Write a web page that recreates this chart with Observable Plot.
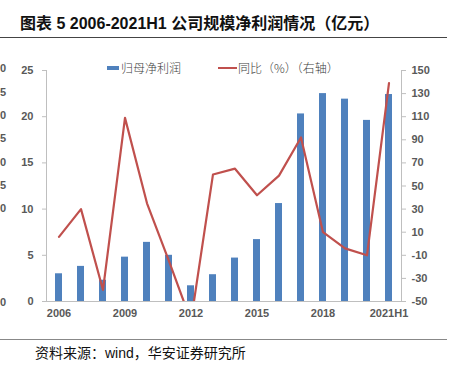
<!DOCTYPE html>
<html><head><meta charset="utf-8">
<script src="https://cdn.jsdelivr.net/npm/d3@7"></script>
<script src="https://cdn.jsdelivr.net/npm/@observablehq/plot@0.6"></script>
<style>
body{margin:0;background:#fff;width:454px;height:371px;overflow:hidden;position:relative;font-family:"Liberation Sans","Noto Sans CJK SC",sans-serif}
#title{position:absolute;left:20px;top:14px;font-weight:bold;font-size:16px;line-height:20px;color:#111;white-space:nowrap}
.hr{position:absolute;left:0;width:447px;height:1px}
#chart{position:absolute;left:0;top:40px}
#legend{position:absolute;top:60px;left:0;font-family:"Noto Sans CJK SC",sans-serif;font-weight:300;font-size:12px;color:#404040;white-space:nowrap}
.sw{position:absolute}
.lt{position:absolute;top:0;line-height:16px}
#caption{position:absolute;left:35px;top:344px;font-size:14px;line-height:18px;color:#111;white-space:nowrap}
.ghost{position:absolute;left:0px;font-weight:bold;font-size:11px;color:#595959;line-height:12px}
</style></head>
<body>
<div id="title">图表 5 2006-2021H1 公司规模净利润情况（亿元）</div>
<div class="hr" style="top:37px;background:#444"></div>
<div id="chart"></div>
<div id="legend">
  <div class="sw" style="left:107px;top:6px;width:12px;height:4px;background:#4f81bd"></div>
  <div class="lt" style="left:121px">归母净利润</div>
  <div class="sw" style="left:218px;top:7px;width:19px;height:2px;background:#c0504d"></div>
  <div class="lt" style="left:238px">同比（%）（右轴）</div>
</div>
<div class="hr" style="top:339px;background:#888"></div>
<div id="caption">资料来源：wind，华安证券研究所</div>
<script>
const years = ["2006","2007","2008","2009","2010","2011","2012","2013","2014","2015","2016","2017","2018","2019","2020","2021H1"];
const profit = [3.0, 3.8, 2.3, 4.8, 6.4, 5.0, 1.7, 2.9, 4.7, 6.7, 10.6, 20.3, 22.5, 21.9, 19.6, 22.4];
const yoy = [6, 30, -40, 109, 35, -15, -67, 60, 65, 42, 59, 92, 10, -4, -10, 139];
const leftTicks = [0, 5, 10, 15, 20, 25];
const rightTicks = [-50, -30, -10, 10, 30, 50, 70, 90, 110, 130, 150];
const xTickLabels = ["2006", "2009", "2012", "2015", "2018", "2021H1"];
const ghostLabels = ["0","5","0","5","0","5","0","0"];
const ghostTops = [62, 86, 109, 132, 156, 179, 202, 296];

// right axis (-50..150) mapped onto left scale (0..25)
const toLeft = v => (v + 50) / 8;
const fromLeft = v => Math.round(v * 8 - 50);

const data = years.map((y, i) => ({year: y, profit: profit[i], yoy: yoy[i]}));

const axisColor = "#bfbfbf";
const textColor = "#595959";

const chart = Plot.plot({
  width: 454,
  height: 296,
  marginTop: 30,
  marginBottom: 35,
  marginLeft: 46,
  marginRight: 53,
  style: {background: "transparent", fontFamily: "Liberation Sans, Arial, sans-serif", fontSize: "11px", fontWeight: "bold"},
  x: {domain: years, paddingInner: 0.67, paddingOuter: 0.335, axis: null},
  y: {domain: [0, 25], axis: null},
  marks: [
    Plot.barY(data, {x: "year", y: "profit", fill: "#4f81bd"}),
    Plot.frame({anchor: "left", stroke: axisColor}),
    Plot.frame({anchor: "right", stroke: axisColor}),
    Plot.frame({anchor: "bottom", stroke: axisColor}),
    Plot.axisY(leftTicks, {anchor: "left", tickSize: 4, tickPadding: 9, stroke: axisColor, fill: textColor, label: null}),
    Plot.axisY(rightTicks.map(toLeft), {anchor: "right", tickSize: 4, tickPadding: 6, tickFormat: fromLeft, stroke: axisColor, fill: textColor, label: null}),
    Plot.axisX(xTickLabels, {anchor: "bottom", tickSize: 0, tickPadding: 8, fill: textColor, label: null}),
    Plot.line(data, {x: "year", y: d => toLeft(d.yoy), stroke: "#c0504d", strokeWidth: 2.2, clip: true})
  ]
});
document.getElementById("chart").appendChild(chart);

ghostLabels.forEach((t, i) => {
  const s = document.createElement("div");
  s.className = "ghost";
  s.style.top = ghostTops[i] + "px";
  s.textContent = t;
  document.body.appendChild(s);
});
</script>
</body></html>
